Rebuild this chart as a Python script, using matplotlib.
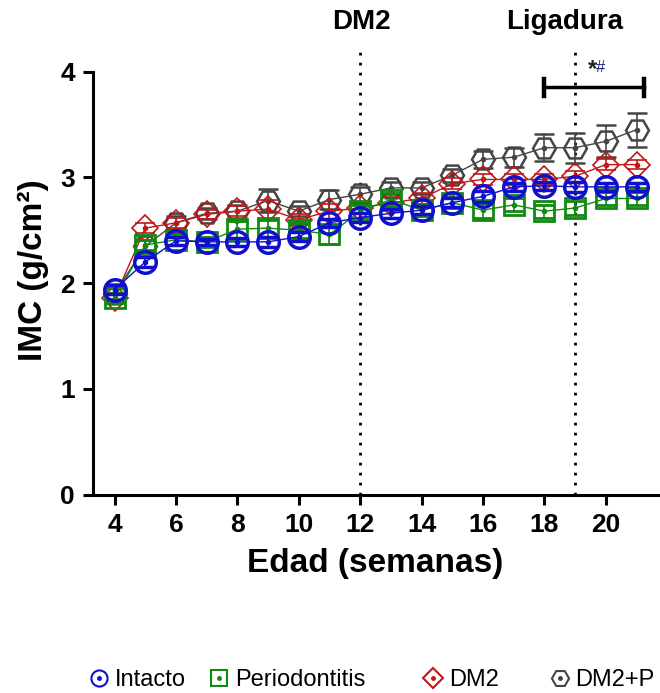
import matplotlib
matplotlib.use("Agg")
import matplotlib.pyplot as plt
from matplotlib.lines import Line2D
from matplotlib.legend_handler import HandlerTuple
import numpy as np

plt.rcParams['font.family'] = ['Liberation Sans', 'DejaVu Sans']

weeks = list(range(4, 22))
intacto = [1.94, 2.20, 2.40, 2.39, 2.39, 2.39, 2.44, 2.57, 2.62, 2.66, 2.69, 2.76, 2.82, 2.91, 2.92, 2.91, 2.91, 2.91]
intacto_err = [0.04, 0.05, 0.04, 0.03, 0.04, 0.05, 0.04, 0.04, 0.04, 0.04, 0.04, 0.04, 0.05, 0.04, 0.04, 0.05, 0.04, 0.04]
perio = [1.86, 2.36, 2.41, 2.39, 2.51, 2.52, 2.50, 2.46, 2.68, 2.79, 2.69, 2.76, 2.69, 2.74, 2.68, 2.71, 2.80, 2.80]
perio_err = [0.05, 0.05, 0.05, 0.05, 0.08, 0.08, 0.07, 0.09, 0.06, 0.06, 0.06, 0.05, 0.07, 0.06, 0.06, 0.07, 0.06, 0.06]
dm2 = [1.86, 2.52, 2.57, 2.65, 2.68, 2.70, 2.60, 2.68, 2.71, 2.76, 2.80, 2.94, 2.98, 2.98, 2.98, 3.01, 3.12, 3.12]
dm2_err = [0.05, 0.05, 0.05, 0.04, 0.05, 0.09, 0.05, 0.07, 0.06, 0.05, 0.05, 0.05, 0.05, 0.05, 0.05, 0.05, 0.05, 0.04]
dm2p = [1.90, 2.35, 2.57, 2.66, 2.68, 2.78, 2.68, 2.79, 2.84, 2.90, 2.90, 3.02, 3.17, 3.19, 3.28, 3.28, 3.34, 3.45]
dm2p_err = [0.05, 0.06, 0.06, 0.05, 0.06, 0.11, 0.05, 0.09, 0.07, 0.06, 0.06, 0.06, 0.08, 0.09, 0.13, 0.14, 0.15, 0.16]

labels = ['Intacto', 'Periodontitis', 'DM2', 'DM2+P']
colors = ['#1010CC', '#108A10', '#C01818', '#454545']
markers = ['o', 's', 'D', 'H']
msizes = [15.5, 15, 13.5, 16.5]
mews = [2.5, 2.0, 1.2, 1.8]
events_x = [12, 19]
events_txt = ['DM2', 'Ligadura']
xticks = [4, 6, 8, 10, 12, 14, 16, 18, 20]
yticks = [0, 1, 2, 3, 4]

fig = plt.figure(figsize=(6.6, 6.93), dpi=100)
ax = fig.add_axes([0.141, 0.286, 0.856, 0.649])

series = [(intacto, intacto_err), (perio, perio_err), (dm2, dm2_err), (dm2p, dm2p_err)]
zorders = [8, 6, 5, 4]
for i in [3, 2, 1, 0]:
    vals, errs = series[i]
    c = colors[i]
    ax.errorbar(weeks, vals, yerr=errs, color=c, lw=1.0, elinewidth=1.2,
                capsize=7, capthick=1.4, marker=markers[i], ms=msizes[i],
                mfc='none', mec=c, mew=mews[i], zorder=zorders[i])
    ax.plot(weeks, vals, ls='none', marker='o', ms=3, color=c, zorder=zorders[i] + 0.5)

for x in events_x:
    ax.axvline(x, ymin=0, ymax=1, color='black', lw=2, ls=(0, (1, 2.6)), zorder=3)

ax.set_xlim(3.3, 21.7)
ax.set_ylim(0, 4.25)
ax.spines['top'].set_visible(False)
ax.spines['right'].set_visible(False)
ax.spines['left'].set_bounds(0, 4)
ax.spines['left'].set_linewidth(2.2)
ax.spines['bottom'].set_linewidth(2.2)
ax.set_xticks(xticks)
ax.set_yticks(yticks)
ax.tick_params(axis='both', direction='out', length=7, width=2.2, labelsize=19, pad=6)
for lab in ax.get_xticklabels() + ax.get_yticklabels():
    lab.set_fontweight('bold')

ax.set_xlabel('Edad (semanas)', fontsize=24, fontweight='bold', labelpad=8)
ax.set_ylabel('IMC (g/cm²)', fontsize=24, fontweight='bold', labelpad=8)

# significance bar
ax.plot([18, 21.25], [3.85, 3.85], color='black', lw=2.5, clip_on=False, zorder=9)
for xe in [18, 21.25]:
    ax.plot([xe, xe], [3.77, 3.93], color='black', lw=3.2, clip_on=False, zorder=9)
ax.text(19.72, 3.91, '*', color='#222222', fontsize=17, fontweight='bold', ha='right', va='bottom', zorder=10)
ax.text(19.68, 3.97, '#', color='#1A237E', fontsize=12, ha='left', va='bottom', zorder=10)

# event labels
for x, t in zip(events_x, events_txt):
    xd = x + 0.05 if t == 'DM2' else x - 0.33
    ax.text(xd, 4.47, t, fontsize=20, fontweight='bold', ha='center', va='center', clip_on=False)

# legend entries placed individually
leg_x = [0.138, 0.320, 0.644, 0.836]
for i in range(4):
    h = (Line2D([], [], ls='none', marker=markers[i], ms=msizes[i] * 0.75, mfc='none', mec=colors[i], mew=1.5),
         Line2D([], [], ls='none', marker='o', ms=2.5, color=colors[i]))
    fig.legend([h], [labels[i]], handler_map={tuple: HandlerTuple(ndivide=1)},
               loc='center left', bbox_to_anchor=(leg_x[i], 0.019), frameon=False,
               fontsize=17, handlelength=0.7, handletextpad=0.3, borderpad=0, borderaxespad=0)

fig.savefig('out.png', dpi=100)
